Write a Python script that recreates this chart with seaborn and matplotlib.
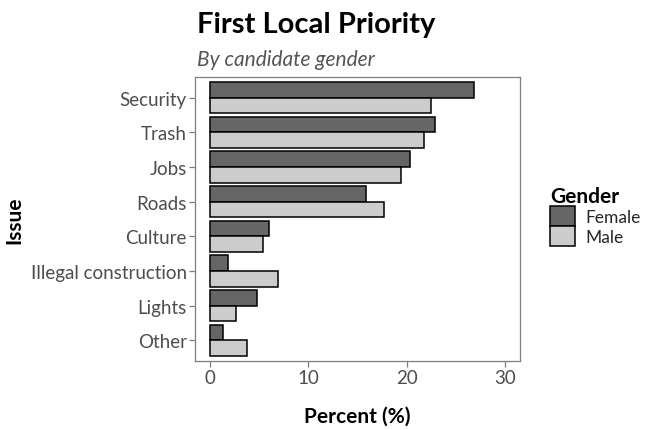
import pandas as pd
import numpy as np
import matplotlib.pyplot as plt
import seaborn as sns

sns.set_theme(style="white")
plt.rcParams['font.family'] = ['Lato', 'DejaVu Sans']

# Data
issues = ['Security', 'Trash', 'Jobs', 'Roads', 'Culture',
          'Illegal construction', 'Lights', 'Other']
female = [26.8, 22.9, 20.3, 15.9, 6.0, 1.9, 4.8, 1.3]
male = [22.5, 21.8, 19.4, 17.7, 5.4, 6.9, 2.7, 3.8]

df = pd.DataFrame({
    'Issue': issues * 2,
    'Percent': female + male,
    'Gender': ['Female'] * len(issues) + ['Male'] * len(issues),
})

fig = plt.figure(figsize=(6.47, 4.31), dpi=100)
ax = fig.add_axes([0.3014, 0.160, 0.5023, 0.659])

sns.barplot(data=df, x='Percent', y='Issue', hue='Gender', order=issues,
            hue_order=['Female', 'Male'], palette=['#666666', '#cccccc'],
            edgecolor='black', linewidth=1.1, width=0.9, orient='h', ax=ax)

ax.set_xlim(-1.5, 31.5)
ax.set_ylim(len(issues) - 0.4, -0.6)
ax.set_xticks([0, 10, 20, 30])
for s in ax.spines.values():
    s.set_color('#7f7f7f')
    s.set_linewidth(0.9)
ax.tick_params(axis='both', which='both', length=4, width=0.9, color='#7f7f7f',
               labelsize=13.5, labelcolor='#4d4d4d', pad=2)
ax.tick_params(axis='x', bottom=True)
ax.tick_params(axis='y', left=True)

ax.set_xlabel('Percent (%)', fontsize=15, fontweight='bold', color='black',
              labelpad=14)
ax.set_ylabel('Issue', fontsize=15, fontweight='bold', color='black')
ax.yaxis.set_label_coords(-0.526, 0.5)

fig.text(0.304, 0.923, 'First Local Priority', fontsize=21, fontweight='bold',
         color='black', ha='left', va='baseline')
fig.text(0.304, 0.847, 'By candidate gender', fontsize=15, style='italic',
         color='#555555', ha='left', va='baseline')

handles, labels = ax.get_legend_handles_labels()
ax.get_legend().remove()
leg = fig.legend(handles, labels, title='Gender', loc='upper left',
                 bbox_to_anchor=(0.832, 0.595), frameon=False, fontsize=12.5,
                 handlelength=1.4, handleheight=1.4, labelspacing=0.0,
                 handletextpad=0.6, borderpad=0.2, alignment='left')
leg.get_title().set_fontweight('bold')
leg.get_title().set_fontsize(15)
leg.get_title().set_color('black')

fig.savefig('out.png', dpi=100)
